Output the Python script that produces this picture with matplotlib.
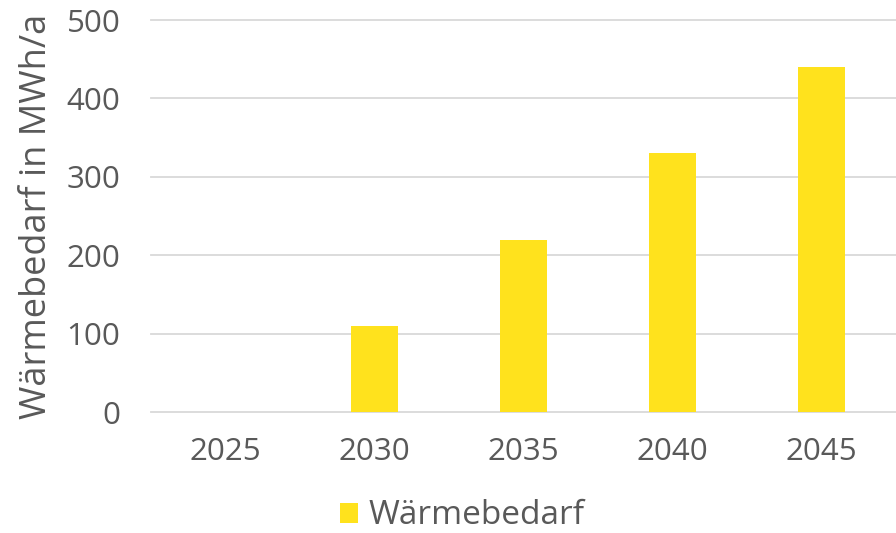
import matplotlib
matplotlib.use("Agg")
import matplotlib.pyplot as plt
from matplotlib.patches import Patch

years = ["2025", "2030", "2035", "2040", "2045"]
heat_demand = [0, 110, 220, 330, 440]
series_name = "Wärmebedarf"
y_label = "Wärmebedarf in MWh/a"
y_ticks = [0, 100, 200, 300, 400, 500]

bar_color = "#FFE21D"
text_color = "#595959"
grid_color = "#D9D9D9"

plt.rcParams["font.family"] = ["Open Sans", "DejaVu Sans"]

fig = plt.figure(figsize=(8.96, 5.33), dpi=100)
ax = fig.add_axes([151 / 896, 1 - 412 / 533, 1 - 151 / 896, (412 - 20) / 533])

x = range(len(years))
ax.bar(x, heat_demand, width=0.315, color=bar_color, zorder=3)

ax.set_xlim(-0.5, len(years) - 0.5)
ax.set_ylim(0, 500)
ax.set_yticks(y_ticks)
ax.set_xticks(list(x))
ax.set_xticklabels(years)

ax.grid(axis="y", color=grid_color, linewidth=1.3, zorder=0)
for s in ax.spines.values():
    s.set_visible(False)
for gl in ax.get_ygridlines():
    gl.set_clip_on(False)

ax.tick_params(axis="both", length=0, labelsize=22.5, labelcolor=text_color)
ax.tick_params(axis="y", pad=22)
ax.tick_params(axis="x", pad=18)

ax.set_ylabel(y_label, fontsize=26, color=text_color, labelpad=8)

fig.legend(handles=[Patch(facecolor=bar_color, edgecolor="none", label=series_name)],
           loc="center", bbox_to_anchor=(462 / 896, 1 - 516 / 533), frameon=False,
           fontsize=24, labelcolor=text_color, handlelength=0.55, handleheight=0.55,
           handletextpad=0.3)

fig.savefig("out.png", dpi=100)
